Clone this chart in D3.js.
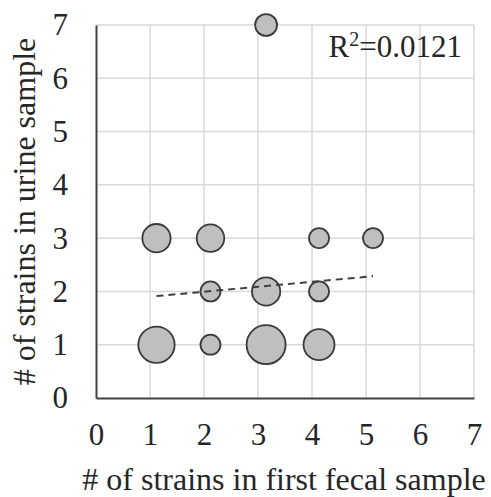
<!DOCTYPE html>
<html>
<head>
<meta charset="utf-8">
<script src="https://cdn.jsdelivr.net/npm/d3@7"></script>
<style>
  body { margin: 0; background: #fff; }
  svg text { font-family: "Liberation Serif", "Times New Roman", serif !important; fill: #262626; }
</style>
</head>
<body>
<div id="chart"></div>
<script>
// bubbles: fecal strains (x, slightly offset as in the original), urine strains (y), bubble size
const fecalStrains = [1.12, 2.12, 3.15, 4.13, 2.12, 3.15, 4.13, 1.12, 2.12, 4.13, 5.13, 3.15];
const urineStrains = [1, 1, 1, 1, 2, 2, 2, 3, 3, 3, 3, 7];
const bubbleSizes  = [3.3, 1, 3.8, 2.4, 1, 2, 1, 2, 1.9, 1, 1, 1.2];
const axisTicks = [0, 1, 2, 3, 4, 5, 6, 7];
const rSquaredLabel = "0.0121";
const xTitle = "# of strains in first fecal sample";
const yTitle = "# of strains in urine sample";

const width = 491, height = 497;
const margin = { top: 25, right: 17, bottom: 99, left: 96 };

const svg = d3.select("#chart").append("svg")
    .attr("width", width)
    .attr("height", height);

const x = d3.scaleLinear().domain([0, 7]).range([margin.left, width - margin.right]);
const y = d3.scaleLinear().domain([0, 7]).range([height - margin.bottom, margin.top]);
const r = d3.scaleSqrt().domain([0, 1]).range([0, 10]);

// gridlines
svg.append("g")
    .selectAll("line.vgrid")
    .data(axisTicks.slice(1))
    .join("line")
    .attr("x1", d => x(d)).attr("x2", d => x(d))
    .attr("y1", y(0)).attr("y2", y(7))
    .attr("stroke", "#d9d9d9").attr("stroke-width", 1.5);

svg.append("g")
    .selectAll("line.hgrid")
    .data(axisTicks.slice(1))
    .join("line")
    .attr("x1", x(0)).attr("x2", x(7))
    .attr("y1", d => y(d)).attr("y2", d => y(d))
    .attr("stroke", "#d9d9d9").attr("stroke-width", 1.5);

// axes
const xAxis = svg.append("g")
    .attr("transform", `translate(0,${y(0)})`)
    .call(d3.axisBottom(x).tickValues(axisTicks).tickFormat(d3.format("d")).tickSize(0).tickPadding(25));
const yAxis = svg.append("g")
    .attr("transform", `translate(${x(0)},0)`)
    .call(d3.axisLeft(y).tickValues(axisTicks).tickFormat(d3.format("d")).tickSize(0).tickPadding(28));

[xAxis, yAxis].forEach(a => {
    a.attr("font-family", null).attr("font-size", null);
    a.select(".domain").attr("stroke", "#404040").attr("stroke-width", 2);
    a.selectAll("text").attr("font-size", 31).attr("fill", "#262626");
});

// weighted linear trendline
const pts = fecalStrains.map((fx, i) => ({ x: fx, y: urineStrains[i], s: bubbleSizes[i] }));
const sw = d3.sum(pts, p => p.s);
const mx = d3.sum(pts, p => p.s * p.x) / sw;
const my = d3.sum(pts, p => p.s * p.y) / sw;
const slope = d3.sum(pts, p => p.s * (p.x - mx) * (p.y - my)) / d3.sum(pts, p => p.s * (p.x - mx) ** 2);
const intercept = my - slope * mx;
const xExt = d3.extent(pts, p => p.x);

// bubbles, largest first so small ones stay visible
svg.append("g")
    .selectAll("circle")
    .data(pts.slice().sort((a, b) => b.s - a.s))
    .join("circle")
    .attr("cx", d => x(d.x))
    .attr("cy", d => y(d.y))
    .attr("r", d => r(d.s))
    .attr("fill", "#bfbfbf")
    .attr("stroke", "#3a3a3a")
    .attr("stroke-width", 1.8);

svg.append("line")
    .attr("x1", x(xExt[0])).attr("y1", y(intercept + slope * xExt[0]))
    .attr("x2", x(xExt[1])).attr("y2", y(intercept + slope * xExt[1]))
    .attr("stroke", "#404040")
    .attr("stroke-width", 2)
    .attr("stroke-dasharray", "7,5");

// R² label
const rl = svg.append("text")
    .attr("x", 462).attr("y", 57)
    .attr("text-anchor", "end")
    .attr("font-size", 31);
rl.append("tspan").text("R");
rl.append("tspan").attr("font-size", 20).attr("dy", -11).text("2");
rl.append("tspan").attr("dy", 11).text("=" + rSquaredLabel);

// axis titles
svg.append("text")
    .attr("x", (x(0) + x(7)) / 2 - 1)
    .attr("y", 490)
    .attr("text-anchor", "middle")
    .attr("font-size", 32)
    .text(xTitle);

svg.append("text")
    .attr("transform", `translate(35,${(y(0) + y(7)) / 2}) rotate(-90)`)
    .attr("text-anchor", "middle")
    .attr("font-size", 32)
    .text(yTitle);
</script>
</body>
</html>
